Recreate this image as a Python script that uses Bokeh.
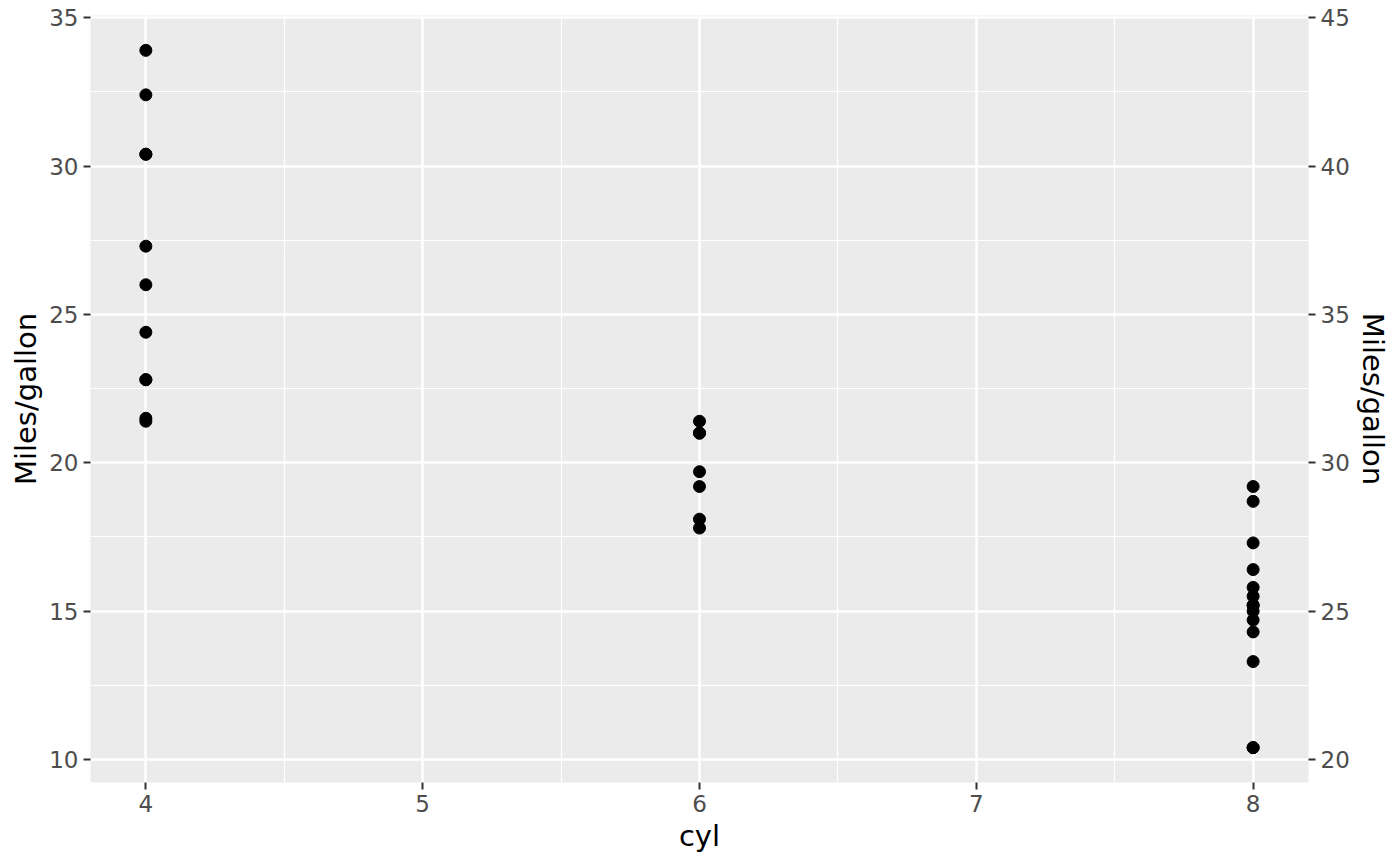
from bokeh.plotting import figure
from bokeh.models import Range1d, LinearAxis, FixedTicker
from bokeh.embed import file_html
from bokeh.resources import INLINE

# mtcars: miles/gallon against number of cylinders
cyl = [6, 6, 4, 6, 8, 6, 8, 4, 4, 6, 6, 8, 8, 8, 8, 8,
       8, 4, 4, 4, 4, 8, 8, 8, 8, 4, 4, 4, 8, 6, 8, 4]
mpg = [21.0, 21.0, 22.8, 21.4, 18.7, 18.1, 14.3, 24.4, 22.8, 19.2, 17.8,
       16.4, 17.3, 15.2, 10.4, 10.4, 14.7, 32.4, 30.4, 33.9, 21.5, 15.5,
       15.2, 13.3, 19.2, 27.3, 26.0, 30.4, 15.8, 19.7, 15.0, 21.4]

x_ticks = [4, 5, 6, 7, 8]
x_minor = [4.5, 5.5, 6.5, 7.5]
y_ticks = [10, 15, 20, 25, 30, 35]
y_minor = [12.5, 17.5, 22.5, 27.5, 32.5]
sec_ticks = [20, 25, 30, 35, 40, 45]
sec_offset = 10  # secondary axis = mpg + 10

FONT = "DejaVu Sans"


def expand(vals, mult=0.05):
    lo, hi = min(vals), max(vals)
    pad = (hi - lo) * mult
    return lo - pad, hi + pad


x0, x1 = expand(cyl)
y0, y1 = expand(mpg)

p = figure(
    frame_width=1218, frame_height=767,
    x_range=Range1d(x0, x1), y_range=Range1d(y0, y1),
    output_backend="svg", toolbar_location=None,
    min_border_left=90, min_border_right=88,
    min_border_top=15, min_border_bottom=68,
    x_axis_label="cyl", y_axis_label="Miles/gallon",
)
p.extra_y_ranges = {"sec": Range1d(y0 + sec_offset, y1 + sec_offset)}
p.add_layout(LinearAxis(y_range_name="sec", axis_label="Miles/gallon"), "right")

p.background_fill_color = "#EBEBEB"
p.border_fill_color = "white"
p.outline_line_color = None

# grid like ggplot: white major and thinner minor lines
p.xgrid.ticker = FixedTicker(ticks=x_ticks, minor_ticks=x_minor)
p.ygrid.ticker = FixedTicker(ticks=y_ticks, minor_ticks=y_minor)
for g in (p.xgrid, p.ygrid):
    g.grid_line_color = "white"
    g.grid_line_width = 2.5
    g.minor_grid_line_color = "white"
    g.minor_grid_line_width = 1.2

p.xaxis.ticker = FixedTicker(ticks=x_ticks)
p.yaxis[0].ticker = FixedTicker(ticks=y_ticks)
p.yaxis[1].ticker = FixedTicker(ticks=sec_ticks)

for ax in p.axis:
    ax.axis_line_color = None
    ax.major_tick_in = 0
    ax.major_tick_out = 7
    ax.major_tick_line_color = "#333333"
    ax.major_tick_line_width = 2
    ax.minor_tick_line_color = None
    ax.major_label_text_font = FONT
    ax.major_label_text_font_size = "23px"
    ax.major_label_text_color = "#4D4D4D"
    ax.major_label_standoff = 5
    ax.axis_label_text_font = FONT
    ax.axis_label_text_font_size = "29px"
    ax.axis_label_text_font_style = "normal"
    ax.axis_label_text_color = "black"
    ax.axis_label_standoff = 3
p.xaxis.axis_label_standoff = 4

p.scatter(cyl, mpg, size=12, color="black")

open("out.html", "w").write(file_html(p, INLINE))
